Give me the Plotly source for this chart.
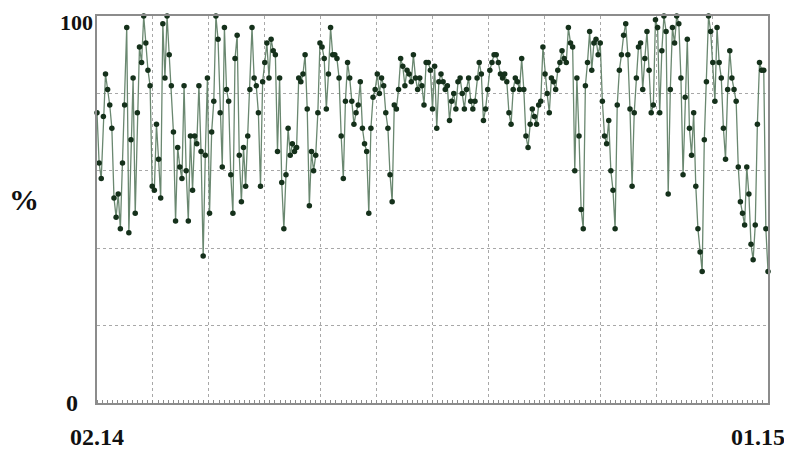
import numpy as np
import plotly.graph_objects as go

# ---- data ----
seg1 = [75, 62, 58, 74, 85, 81, 77, 71, 53, 48, 54, 45, 62, 77, 97, 44, 68, 84, 49, 75,
        92, 88, 100, 93, 86, 82, 56, 55, 72, 63, 53, 98, 84, 100, 90, 82, 70, 47, 66, 61,
        58, 82, 60, 47, 69, 55, 69, 67, 82, 65, 38, 64, 84, 49, 70, 78, 100, 94, 75, 61,
        97, 81, 78, 59, 49, 89, 95, 64, 52, 66, 56, 69, 81, 97, 84, 82]
seg2 = [75, 56, 83, 88, 93, 84, 94, 91, 90, 65, 84, 57, 45, 59, 71, 64, 67, 65, 66, 84,
        83, 85, 90, 76, 51, 65, 60, 64, 75, 93, 92, 89, 76, 85, 97, 90, 90, 89, 84, 69,
        58, 78, 88, 84, 78, 72, 75, 77, 83, 71, 67, 65, 49, 71, 79, 81, 85, 80, 84, 82,
        75, 71, 59, 52, 77, 76, 81, 89, 87, 82, 86, 85, 83, 90, 84, 81, 84, 82, 77, 88]
seg3 = [88, 86, 76, 87, 71, 83, 85, 83, 81, 82, 73, 78, 80, 76, 83, 84, 80, 76, 81, 84,
        78, 76, 78, 84, 88, 85, 73, 76, 81, 86, 88, 90, 90, 88, 85, 84, 85, 83, 75, 72,
        81, 84, 83, 81, 89, 81, 69, 66, 72, 76, 74, 72, 77, 78, 92, 85, 80, 75, 84, 83,
        81, 86, 88, 91, 89, 88, 97, 93, 92, 60, 84, 69, 50, 45, 82, 88, 96, 86, 93, 94, 90]
seg4 = [93, 78, 69, 67, 73, 60, 55, 45, 77, 86, 90, 95, 98, 90, 76, 56, 75, 84, 92, 93,
        81, 89, 96, 86, 75, 77, 99, 97, 75, 91, 100, 96, 54, 81, 97, 93, 100, 98, 84, 59,
        79, 94, 71, 64, 75, 56, 45, 39, 34, 68, 83, 100, 96, 88, 78, 97, 88, 84, 71, 63,
        81, 91, 84, 81, 78, 61, 52, 49, 46, 61, 54, 41, 37, 46, 72, 88, 86, 86, 45, 34]
values = seg1 + seg2 + seg3 + seg4

n_months = 12
month_grid = list(range(n_months + 1))
y_grid = [0, 20, 40, 60, 80, 100]
y_min_label = "0"
y_max_label = "100"
x_start_label = "02.14"
x_end_label = "01.15"
y_title = "%"

x = np.linspace(0, n_months, len(values))

fig = go.Figure()
fig.add_trace(go.Scatter(
    x=x, y=values, mode="lines+markers",
    line=dict(color="#6a8870", width=1.3),
    marker=dict(color="#15311b", size=5.5, symbol="circle"),
    cliponaxis=False, showlegend=False,
))

lab_font = dict(family="Liberation Serif", size=24, color="#111111")

fig.update_xaxes(
    range=[0, n_months], tickvals=month_grid, showticklabels=False,
    showgrid=True, gridcolor="#a8a8a8", griddash="3px,3px", gridwidth=1,
    showline=True, linecolor="#8c8c8c", linewidth=1.5, mirror=True,
    ticks="", zeroline=False, automargin=False,
    minor=dict(ticks="inside", ticklen=3, tickcolor="#8c8c8c", dtick=1/11, showgrid=False),
)
fig.update_yaxes(
    range=[0, 100], tickvals=y_grid, showticklabels=False,
    showgrid=True, gridcolor="#a8a8a8", griddash="3px,3px", gridwidth=1,
    showline=True, linecolor="#8c8c8c", linewidth=1.5, mirror=True,
    ticks="", zeroline=False, automargin=False,
)

# axis end labels
fig.add_annotation(text="<b>%s</b>" % y_max_label, x=0, y=100, xref="paper", yref="y",
                   showarrow=False, font=dict(family="Liberation Serif", size=22, color="#111111"),
                   xanchor="right", yanchor="top", xshift=-2, yshift=8)
fig.add_annotation(text="<b>%s</b>" % y_min_label, x=0, y=0, xref="paper", yref="y",
                   showarrow=False, font=lab_font,
                   xanchor="center", yanchor="middle", xshift=-25)
fig.add_annotation(text="<b>%s</b>" % x_start_label, x=0, y=-0.088, xref="x", yref="paper",
                   showarrow=False, font=lab_font, xanchor="center", yanchor="middle")
fig.add_annotation(text="<b>%s</b>" % x_end_label, x=n_months * 0.985, y=-0.088, xref="x", yref="paper",
                   showarrow=False, font=lab_font, xanchor="center", yanchor="middle")
fig.add_annotation(text="<b>%s</b>" % y_title, x=-0.109, y=0.525, xref="paper", yref="paper",
                   showarrow=False, font=dict(family="Liberation Serif", size=30, color="#111111"),
                   xanchor="center", yanchor="middle")

# page body has an 8px default margin, so the figure is offset by 8px
fig.update_layout(
    width=784, height=444,
    margin=dict(l=89, r=24, t=8, b=49),
    paper_bgcolor="white", plot_bgcolor="white",
)

fig.write_html("out.html")
